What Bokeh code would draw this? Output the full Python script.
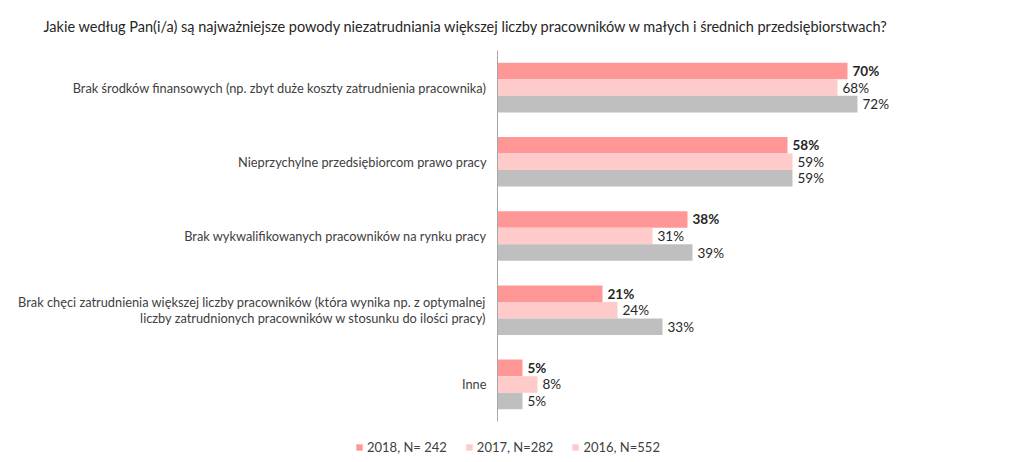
from bokeh.plotting import figure
from bokeh.layouts import column
from bokeh.models import ColumnDataSource, FactorRange, Legend, LegendItem, Title, Range1d
from bokeh.transform import dodge
from bokeh.embed import file_html
from bokeh.resources import INLINE
from bokeh.core.properties import value

title_text = "Jakie według Pan(i/a) są najważniejsze powody niezatrudniania większej liczby pracowników w małych i średnich przedsiębiorstwach?"
categories = [
    "Brak środków finansowych (np. zbyt duże koszty zatrudnienia pracownika)",
    "Nieprzychylne przedsiębiorcom prawo pracy",
    "Brak wykwalifikowanych pracowników na rynku pracy",
    "Brak chęci zatrudnienia większej liczby pracowników (która wynika np. z optymalnej\nliczby zatrudnionych pracowników w stosunku do ilości pracy)",
    "Inne",
]
v2018 = [70, 58, 38, 21, 5]
v2017 = [68, 59, 31, 24, 8]
v2016 = [72, 59, 39, 33, 5]
series_names = ["2018, N= 242", "2017, N=282", "2016, N=552"]

FONT = "Lato"
C18, C17, C16 = "#FF9797", "#FFCACA", "#BFBFBF"

def lab(vals):
    return [f"{v}%" for v in vals]

src = ColumnDataSource(dict(cat=categories, v18=v2018, v17=v2017, v16=v2016,
                            l18=lab(v2018), l17=lab(v2017), l16=lab(v2016)))

p = figure(width=1008, height=428, output_backend="svg", toolbar_location=None,
           y_range=FactorRange(factors=categories[::-1], range_padding=0),
           x_range=(0, 100),
           min_border_left=497, min_border_right=11, min_border_top=50, min_border_bottom=7)
p.outline_line_color = None
p.xgrid.visible = False
p.ygrid.visible = False
p.xaxis.visible = False

ax = p.yaxis[0]
ax.axis_line_color = "#A6A6A6"
ax.major_tick_line_color = None
ax.minor_tick_line_color = None
ax.major_tick_out = 0
ax.major_tick_in = 0
ax.major_label_standoff = 11
ax.major_label_text_font = FONT
ax.major_label_text_font_size = "12.8px"
ax.major_label_text_color = "#404040"
ax.major_label_text_line_height = 1.0

h = 0.223
r18 = p.hbar(y=dodge("cat", h, range=p.y_range), right="v18", height=h, left=0, source=src,
             fill_color=C18, line_color=None)
r17 = p.hbar(y=dodge("cat", 0, range=p.y_range), right="v17", height=h, left=0, source=src,
             fill_color=C17, line_color=None)
r16 = p.hbar(y=dodge("cat", -h, range=p.y_range), right="v16", height=h, left=0, source=src,
             fill_color=C16, line_color=None)

for col, lcol, off, bold in [("v18", "l18", h, True), ("v17", "l17", 0, False), ("v16", "l16", -h, False)]:
    p.text(x=col, y=dodge("cat", off, range=p.y_range), text=lcol, source=src,
           x_offset=5, text_baseline="middle", text_align="left",
           text_font=value(FONT), text_font_size="13.5px", text_color="#262626",
           text_font_style="bold" if bold else "normal")

t = Title(text=title_text, align="left", offset=-454, standoff=31, text_font=FONT,
          text_font_size="14.5px", text_font_style="normal", text_color="#262626")
p.add_layout(t, "above")

# legend in its own strip below the chart (2016 swatch is pink in the original)
lf = figure(width=1008, height=34, output_backend="svg", toolbar_location=None,
            x_range=Range1d(0, 1), y_range=Range1d(0, 1),
            min_border_left=0, min_border_right=0, min_border_top=0, min_border_bottom=0)
lf.outline_line_color = None
lf.axis.visible = False
lf.grid.visible = False
for fig in (p, lf):
    try:
        fig.frame_align = False
    except Exception:
        pass
# hidden legend-only renderers (one row each so the swatch is drawn)
leg_src = ColumnDataSource(dict(y=[0], right=[0]))
d18 = lf.hbar(y="y", right="right", height=1, source=leg_src, fill_color=C18, line_color=None, visible=False)
d17 = lf.hbar(y="y", right="right", height=1, source=leg_src, fill_color=C17, line_color=None, visible=False)
d16 = lf.hbar(y="y", right="right", height=1, source=leg_src, fill_color=C17, line_color=None, visible=False)
legend = Legend(items=[LegendItem(label=series_names[0], renderers=[d18]),
                       LegendItem(label=series_names[1], renderers=[d17]),
                       LegendItem(label=series_names[2], renderers=[d16])],
                orientation="horizontal", location=(355, 7),
                label_text_font=FONT, label_text_font_size="13px", label_text_color="#404040",
                glyph_width=8, glyph_height=8, label_standoff=4, spacing=18,
                padding=4, margin=0, border_line_color=None, background_fill_alpha=0,
                inactive_fill_alpha=0)
lf.add_layout(legend, "center")

layout = column(p, lf, spacing=0)
open("out.html", "w").write(file_html(layout, INLINE))
